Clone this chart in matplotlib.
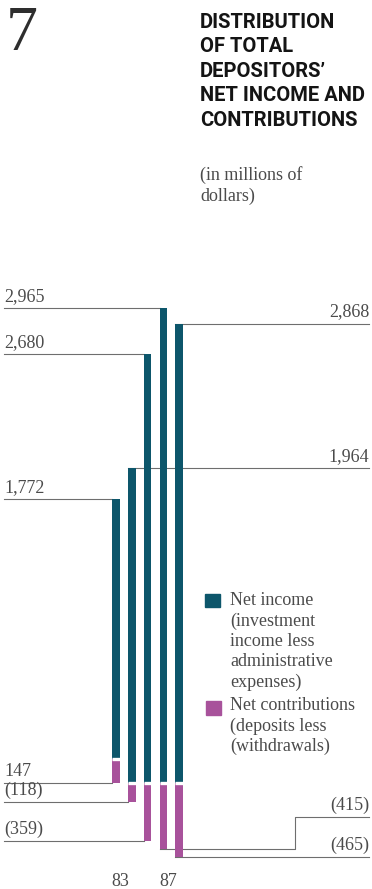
import matplotlib
matplotlib.use("Agg")
import matplotlib.pyplot as plt
from matplotlib.patches import Rectangle

# values in millions of dollars, 1983-1987
years = ["83", "84", "85", "86", "87"]
net_income = [1772, 1964, 2680, 2965, 2868]
net_contrib = [147, -118, -359, -415, -465]
income_labels = ["1,772", "1,964", "2,680", "2,965", "2,868"]
contrib_labels = ["147", "(118)", "(359)", "(415)", "(465)"]

# which side each callout goes to
income_side = ["left", "right", "left", "left", "right"]
contrib_side = ["left", "left", "left", "right", "right"]

TEAL = "#0d566b"
PURPLE = "#a8529b"
GREY = "#4b4b4b"
RULE = "#6e6e6e"
SERIF = ["Liberation Serif", "DejaVu Serif"]
NARROW = ["Liberation Sans Narrow", "Roboto", "DejaVu Sans"]

W, H = 372, 889
fig = plt.figure(figsize=(W / 100, H / 100), dpi=100)
ax = fig.add_axes([0, 0, 1, 1])

# layout in pixels: zero line, scale, first bar centre, bar pitch
y0_px = 783
px_per_m = 0.1602
x0_px = 116
pitch_px = 15.8
bar_w = 0.48

ax.set_xlim(-x0_px / pitch_px, (W - x0_px) / pitch_px)
ax.set_ylim(-(H - y0_px) / px_per_m, y0_px / px_per_m)
ax.axis("off")


def fx(x):
    return x / W


def fy(y):
    return 1 - y / H


xl, xr = ax.get_xlim()
left_end = xl + 4 / pitch_px
right_end = xr - 3 / pitch_px
lift = 3 / px_per_m
xs = list(range(len(years)))

ax.bar(xs, net_income, width=bar_w, color=TEAL, zorder=3)
ax.bar(xs, net_contrib, width=bar_w, color=PURPLE, zorder=4)
# thin white break between the two segments
for x, c in zip(xs, net_contrib):
    ax.plot([x - bar_w / 2, x + bar_w / 2], [max(c, 0), max(c, 0)],
            color="white", lw=2.4, solid_capstyle="butt", zorder=5)

lbl = dict(family=SERIF, fontsize=13, color=GREY, zorder=6)

for x, v, t, side in zip(xs, net_income, income_labels, income_side):
    if side == "left":
        ax.plot([left_end, x - bar_w / 2], [v, v], color=RULE, lw=0.8, zorder=2)
        ax.text(left_end, v + lift, t, ha="left", va="bottom", **lbl)
    else:
        ax.plot([x - bar_w / 2, right_end], [v, v], color=RULE, lw=0.8, zorder=2)
        ax.text(right_end, v + lift, t, ha="right", va="bottom", **lbl)

# the (415) callout steps up to clear the (465) one
elbow_x = (295 - x0_px) / pitch_px
elbow_rise = 32 / px_per_m
for x, c, t, side in zip(xs, net_contrib, contrib_labels, contrib_side):
    y = min(c, 0)
    if side == "left":
        ax.plot([left_end, x - bar_w / 2], [y, y], color=RULE, lw=0.8, zorder=2)
        ax.text(left_end, y + lift, t, ha="left", va="bottom", **lbl)
    elif x == 3:
        ax.plot([x - bar_w / 2, elbow_x, elbow_x, right_end],
                [y, y, y + elbow_rise, y + elbow_rise], color=RULE, lw=0.8, zorder=2)
        ax.text(right_end, y + elbow_rise + lift, t, ha="right", va="bottom", **lbl)
    else:
        ax.plot([x - bar_w / 2, right_end], [y, y], color=RULE, lw=0.8, zorder=2)
        ax.text(right_end, y + lift, t, ha="right", va="bottom", **lbl)

year_y = -(881 - y0_px) / px_per_m
ax.text(0.25, year_y, years[0], ha="center", va="center", **lbl)
ax.text(3.3, year_y, years[-1], ha="center", va="center", **lbl)

# header
fig.text(fx(6), fy(6), "7", family=SERIF, fontsize=46, color="#2e2e2e",
         ha="left", va="top")
fig.text(fx(200), fy(13), "DISTRIBUTION\nOF TOTAL\nDEPOSITORS\u2019\nNET INCOME AND\nCONTRIBUTIONS",
         family=NARROW, fontweight="bold", fontsize=14.5, color="#141414",
         ha="left", va="top", linespacing=1.36)
fig.text(fx(200), fy(166), "(in millions of\ndollars)", family=SERIF, fontsize=13,
         color=GREY, ha="left", va="top", linespacing=1.25)

# legend
fig.add_artist(Rectangle((fx(205), fy(607)), 15 / W, 13 / H, color=TEAL,
                         transform=fig.transFigure))
fig.add_artist(Rectangle((fx(206), fy(715)), 15 / W, 14 / H, color=PURPLE,
                         transform=fig.transFigure))
fig.text(fx(230), fy(592), "Net income\n(investment\nincome less\nadministrative\nexpenses)",
         family=SERIF, fontsize=13, color=GREY, ha="left", va="top", linespacing=1.25)
fig.text(fx(230), fy(697), "Net contributions\n(deposits less\n(withdrawals)",
         family=SERIF, fontsize=13, color=GREY, ha="left", va="top", linespacing=1.25)

fig.savefig("out.png", dpi=100, facecolor="white")
